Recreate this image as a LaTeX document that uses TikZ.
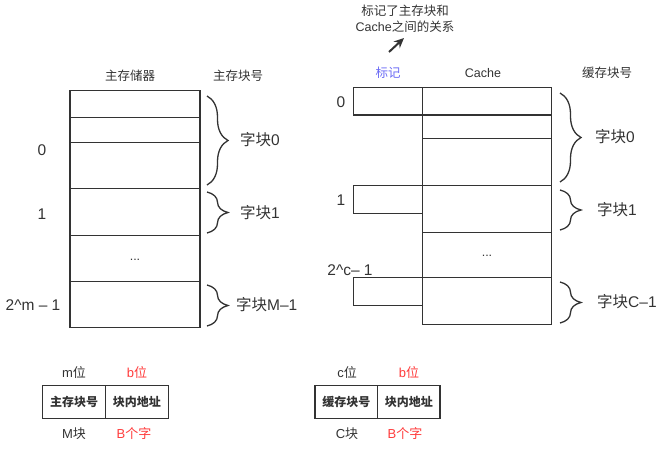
\documentclass[tikz,border=0pt]{standalone}
\usepackage{fontspec}
\setmainfont{Liberation Sans}
\newfontfamily\cjk{Noto Sans CJK SC}
\usetikzlibrary{decorations.pathreplacing,arrows.meta}
\definecolor{ink}{HTML}{333333}
\definecolor{redt}{HTML}{FF3B3B}
\definecolor{bluet}{HTML}{6B6BF5}
\tikzset{
  cell/.style={draw=ink, line width=1.4pt, rectangle, outer sep=0pt, inner sep=0pt, anchor=north west},
  brc/.style={decorate, decoration={brace, amplitude=21pt}, draw=ink, line width=1.3pt},
  hdr/.style={text=ink, font=\fontsize{12.5}{14}\selectfont, inner sep=0pt},
  lbl/.style={text=ink, font=\fontsize{15.5}{17}\selectfont, inner sep=0pt},
  bot/.style={text=ink, font=\fontsize{13}{15}\selectfont, inner sep=0pt},
  cellt/.style={text=ink, font=\fontsize{12}{14}\selectfont\cjk\bfseries},
}
\begin{document}
\begin{tikzpicture}[x=1pt,y=-1pt]
\useasboundingbox (0,0) rectangle (665,453);
% ---------- main memory ----------
\node[cell, minimum width=130pt, minimum height=26.6pt] (m1) at (70,90.7) {};
\node[cell, minimum width=130pt, minimum height=25pt]   (m2) at (70,117.3) {};
\node[cell, minimum width=130pt, minimum height=46pt]   (m3) at (70,142.3) {};
\node[cell, minimum width=130pt, minimum height=47.4pt] (m4) at (70,188.3) {};
\node[cell, minimum width=130pt, minimum height=46pt]   (m5) at (70,235.7) {};
\node[cell, minimum width=130pt, minimum height=46pt]   (m6) at (70,281.7) {};
\node[hdr] (mdots) at (135,260) {...};
\node[hdr] (mh1) at (130,76) {\cjk 主存储器};
\node[hdr] (mh2) at (238,76) {\cjk 主存块号};
\node[lbl] (n0) at (42,150) {0};
\node[lbl] (n1) at (42,214) {1};
\node[lbl] (nm) at (33,305) {2\^{}m – 1};
\coordinate (b0a) at (207,96);  \coordinate (b0b) at (207,185);
\coordinate (b1a) at (207,192); \coordinate (b1b) at (207,233);
\coordinate (b2a) at (207,285); \coordinate (b2b) at (207,326);
\draw[brc] (b0a) -- (b0b);
\draw[brc] (b1a) -- (b1b);
\draw[brc] (b2a) -- (b2b);
\node[lbl, anchor=west] (k0) at (240,140) {{\cjk 字块}0};
\node[lbl, anchor=west] (k1) at (240,213) {{\cjk 字块}1};
\node[lbl, anchor=west] (k2) at (236,305) {{\cjk 字块}M–1};
% ---------- cache ----------
\node[cell, minimum width=129.4pt, minimum height=27.7pt] (c1) at (422.3,87.3) {};
\node[cell, minimum width=129.4pt, minimum height=23.3pt] (c2) at (422.3,115) {};
\node[cell, minimum width=129.4pt, minimum height=47.4pt] (c3) at (422.3,138.3) {};
\node[cell, minimum width=129.4pt, minimum height=46.6pt] (c4) at (422.3,185.7) {};
\node[cell, minimum width=129.4pt, minimum height=45.4pt] (c5) at (422.3,232.3) {};
\node[cell, minimum width=129.4pt, minimum height=46.6pt] (c6) at (422.3,277.7) {};
\node[cell, minimum width=69pt, minimum height=27.7pt] (t1) at (353.3,87.3) {};
\node[cell, minimum width=69pt, minimum height=28pt]   (t2) at (353.3,185.7) {};
\node[cell, minimum width=69pt, minimum height=28pt]   (t3) at (353.3,277.7) {};
\node[hdr] (cdots) at (487,256) {...};
\node[hdr, text=bluet] (ch0) at (388,73) {\cjk 标记};
\node[hdr] (ch1) at (483,73) {Cache};
\node[hdr] (ch2) at (607,73) {\cjk 缓存块号};
\node[lbl] (cn0) at (341,102) {0};
\node[lbl] (cn1) at (341,200) {1};
\node[lbl] (cnm) at (350,270) {2\^{}c– 1};
\coordinate (d0a) at (560,93);  \coordinate (d0b) at (560,182);
\coordinate (d1a) at (560,190); \coordinate (d1b) at (560,230);
\coordinate (d2a) at (560,282); \coordinate (d2b) at (560,323);
\draw[brc] (d0a) -- (d0b);
\draw[brc] (d1a) -- (d1b);
\draw[brc] (d2a) -- (d2b);
\node[lbl, anchor=west] (e0) at (595,137) {{\cjk 字块}0};
\node[lbl, anchor=west] (e1) at (597,210) {{\cjk 字块}1};
\node[lbl, anchor=west] (e2) at (597,302) {{\cjk 字块}C–1};
% note and arrow
\node[hdr] (note1) at (405,11) {\cjk 标记了主存块和};
\node[hdr] (note2) at (405,27) {Cache{\cjk 之间的关系}};
\coordinate (ar0) at (389,52);
\coordinate (ar1) at (404,38);
\draw[draw=ink, line width=2pt, -{Stealth[length=10pt,width=9pt]}] (ar0) -- (ar1);
% ---------- address formats ----------
\node[cell, minimum width=62.6pt, minimum height=32.6pt] (a1) at (42.7,385.7) {};
\node[cell, minimum width=63pt, minimum height=32.6pt]   (a2) at (105.3,385.7) {};
\node[cellt] (a1t) at (a1.center) {主存块号};
\node[cellt] (a2t) at (a2.center) {块内地址};
\node[bot] (a1u) at (74,372) {m{\cjk 位}};
\node[bot, text=redt] (a2u) at (137,372) {b{\cjk 位}};
\node[bot] (a1d) at (74,434) {M{\cjk 块}};
\node[bot, text=redt] (a2d) at (134,434) {B{\cjk 个字}};
\node[cell, minimum width=62.7pt, minimum height=32.6pt] (r1) at (315,385.7) {};
\node[cell, minimum width=62.3pt, minimum height=32.6pt] (r2) at (377.7,385.7) {};
\node[cellt] (r1t) at (r1.center) {缓存块号};
\node[cellt] (r2t) at (r2.center) {块内地址};
\node[bot] (r1u) at (347,372) {c{\cjk 位}};
\node[bot, text=redt] (r2u) at (409,372) {b{\cjk 位}};
\node[bot] (r1d) at (347,434) {C{\cjk 块}};
\node[bot, text=redt] (r2d) at (405,434) {B{\cjk 个字}};
\end{tikzpicture}
\end{document}
